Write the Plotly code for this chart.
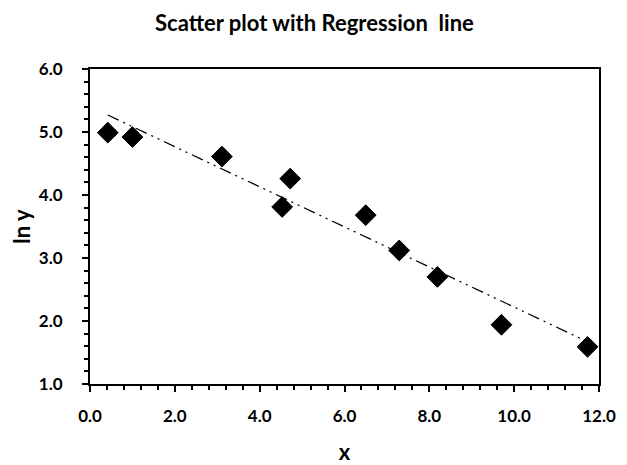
import plotly.graph_objects as go

x = [0.42, 1.00, 3.11, 4.53, 4.72, 6.50, 7.29, 8.19, 9.70, 11.73]
lny = [4.99, 4.92, 4.61, 3.81, 4.26, 3.68, 3.12, 2.70, 1.94, 1.59]

reg_x = [0.42, 11.73]
reg_y = [5.27, 1.67]

FONT = 'Lato'
# the page body has an 8px margin, so the figure is 8px smaller and shifted
W, H = 619, 457

fig = go.Figure()
fig.add_trace(go.Scatter(
    x = reg_x, y = reg_y, mode = 'lines',
    line = dict(color = 'black', width = 1.3, dash = '12px,5px,2px,5px,2px,5px'),
    hoverinfo = 'skip',
))
fig.add_trace(go.Scatter(
    x = x, y = lny, mode = 'markers',
    marker = dict(symbol = 'diamond', size = 16, color = 'black', line = dict(color = 'black', width = 1)),
))

axis = dict(
    showline = True, linecolor = 'black', linewidth = 2, mirror = True,
    ticks = 'outside', ticklen = 6, tickwidth = 2, tickcolor = 'black',
    showgrid = False, zeroline = False, tickformat = '.1f', automargin = False,
    tickfont = dict(family = FONT, size = 17, color = 'black', weight = 'bold'),
)
title_font = dict(family = FONT, size = 22, color = 'black', weight = 'bold')

fig.update_xaxes(
    **axis, range = [0, 12], dtick = 2, tick0 = 0,
    minor = dict(dtick = 0.4, ticks = 'outside', ticklen = 4, tickwidth = 2, tickcolor = 'black'),
    title = dict(text = 'x', font = title_font, standoff = 26),
    ticklabelstandoff = 10,
)
fig.update_yaxes(
    **axis, range = [1, 6], dtick = 1, tick0 = 1,
    minor = dict(dtick = 0.2, ticks = 'outside', ticklen = 4, tickwidth = 2, tickcolor = 'black'),
    title = dict(text = 'ln y', font = title_font, standoff = 16),
    ticklabelstandoff = 16,
)

fig.update_layout(
    width = W, height = H,
    margin = dict(l = 82, r = 28, t = 61, b = 81, autoexpand = False),
    paper_bgcolor = 'white', plot_bgcolor = 'white',
    showlegend = False,
    title = dict(text = 'Scatter plot with Regression  line', x = 0.495, xanchor = 'center',
                 y = 1 - 8 / H, yanchor = 'top', pad = dict(t = 0),
                 font = dict(family = FONT, size = 22, color = 'black', weight = 'bold')),
)

fig.write_html('out.html')
